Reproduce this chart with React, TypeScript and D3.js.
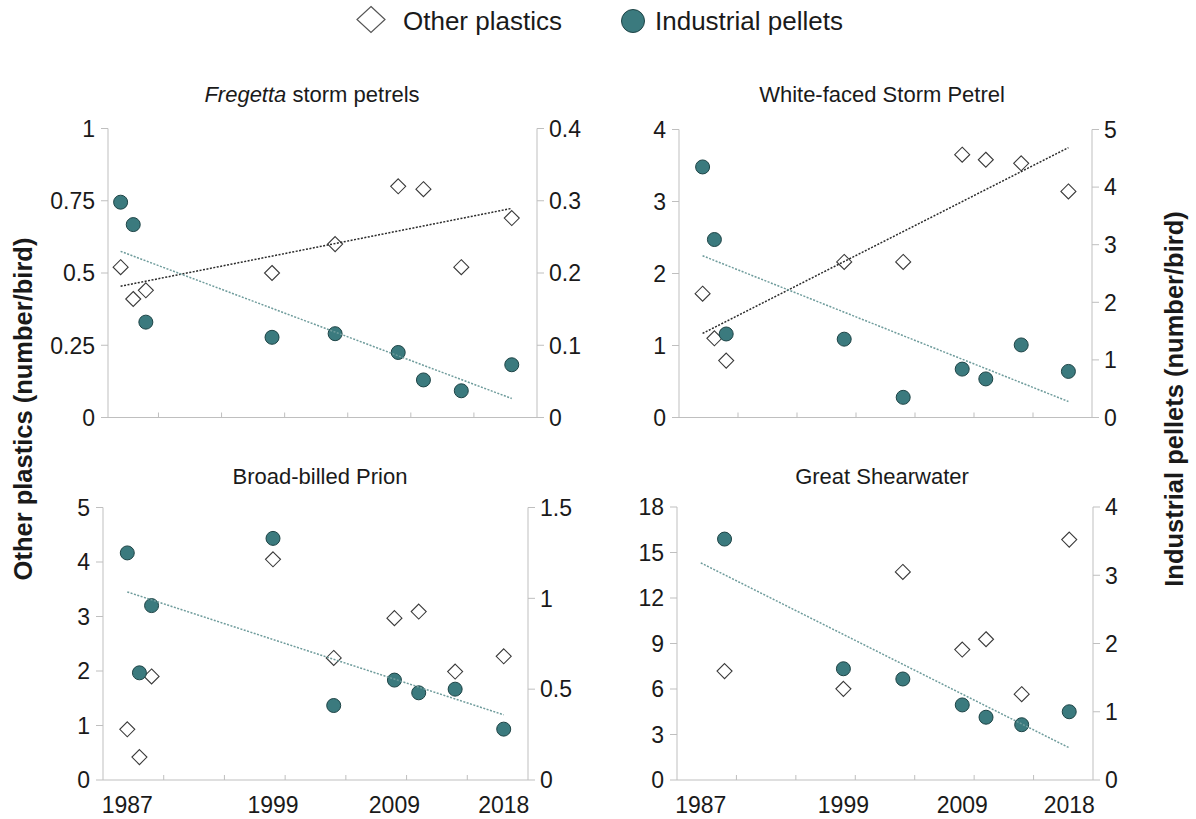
import React from "react";
import * as d3 from "d3";

// ---------- data ----------
const years = [1987, 1988, 1989, 1999, 2004, 2009, 2011, 2014, 2018];
const shearwaterYears = [1989, 1999, 2004, 2009, 2011, 2014, 2018];

const fregettaOther = [0.52, 0.41, 0.44, 0.5, 0.6, 0.8, 0.79, 0.52, 0.69];
const fregettaPellets = [0.298, 0.267, 0.132, 0.111, 0.116, 0.09, 0.052, 0.037, 0.073];

const whiteFacedOther = [1.72, 1.1, 0.79, 2.16, 2.16, 3.65, 3.58, 3.53, 3.14];
const whiteFacedPellets = [4.35, 3.09, 1.45, 1.36, 0.35, 0.84, 0.67, 1.26, 0.8];

const prionOther = [0.93, 0.42, 1.9, 4.05, 2.24, 2.97, 3.09, 1.99, 2.27];
const prionPellets = [1.25, 0.59, 0.96, 1.33, 0.41, 0.55, 0.48, 0.5, 0.28];

const shearwaterOther = [7.18, 6.01, 13.72, 8.6, 9.28, 5.66, 15.85];
const shearwaterPellets = [3.53, 1.63, 1.48, 1.1, 0.92, 0.81, 1.0];

const xTickLabels = [1987, 1999, 2009, 2018];
const xMinorTicks = [1990, 1995, 2000, 2005, 2010, 2015];
const trendRange = [1987, 2018];

const fregettaLeftTicks = [0, 0.25, 0.5, 0.75, 1];
const fregettaRightTicks = [0, 0.1, 0.2, 0.3, 0.4];
const whiteFacedLeftTicks = [0, 1, 2, 3, 4];
const whiteFacedRightTicks = [0, 1, 2, 3, 4, 5];
const prionLeftTicks = [0, 1, 2, 3, 4, 5];
const prionRightTicks = [0, 0.5, 1, 1.5];
const shearwaterLeftTicks = [0, 3, 6, 9, 12, 15, 18];
const shearwaterRightTicks = [0, 1, 2, 3, 4];

const legendLabels = ["Other plastics", "Industrial pellets"];
const yTitleLeft = "Other plastics  (number/bird)";
const yTitleRight = "Industrial pellets  (number/bird)";

// ---------- style ----------
const FONT = "'Liberation Sans', Arial, Helvetica, sans-serif";
const AXIS = "#bfbfbf";
const TEAL = "#3b7a7e";
const TEAL_STROKE = "#1e4446";
const TEAL_TREND = "#6f9c9c";
const DARK_TREND = "#2b2b2b";
const TICK_FS = 23;

type Panel = {
  title: string;
  italicPart?: string;
  titleX: number;
  titleY: number;
  x0: number;
  x1: number;
  xDom: [number, number];
  yTop: number;
  yBot: number;
  leftTicks: number[];
  rightTicks: number[];
  xs: number[];
  other: number[];
  pellets: number[];
  trendOther: boolean;
  trendPellets: boolean;
  showXLabels: boolean;
};

const panels: Panel[] = [
  {
    title: " storm petrels",
    italicPart: "Fregetta",
    titleX: 312,
    titleY: 102,
    x0: 108,
    x1: 537,
    xDom: [1986, 2020],
    yTop: 128.5,
    yBot: 417.5,
    leftTicks: fregettaLeftTicks,
    rightTicks: fregettaRightTicks,
    xs: years,
    other: fregettaOther,
    pellets: fregettaPellets,
    trendOther: true,
    trendPellets: true,
    showXLabels: false,
  },
  {
    title: "White-faced Storm Petrel",
    titleX: 882,
    titleY: 102,
    x0: 679,
    x1: 1092,
    xDom: [1985, 2020],
    yTop: 129.5,
    yBot: 417.5,
    leftTicks: whiteFacedLeftTicks,
    rightTicks: whiteFacedRightTicks,
    xs: years,
    other: whiteFacedOther,
    pellets: whiteFacedPellets,
    trendOther: true,
    trendPellets: true,
    showXLabels: false,
  },
  {
    title: "Broad-billed Prion",
    titleX: 320,
    titleY: 484,
    x0: 103,
    x1: 528,
    xDom: [1985, 2020],
    yTop: 507.5,
    yBot: 780,
    leftTicks: prionLeftTicks,
    rightTicks: prionRightTicks,
    xs: years,
    other: prionOther,
    pellets: prionPellets,
    trendOther: false,
    trendPellets: true,
    showXLabels: true,
  },
  {
    title: "Great Shearwater",
    titleX: 882,
    titleY: 484,
    x0: 677,
    x1: 1093,
    xDom: [1985, 2020],
    yTop: 507,
    yBot: 780,
    leftTicks: shearwaterLeftTicks,
    rightTicks: shearwaterRightTicks,
    xs: shearwaterYears,
    other: shearwaterOther,
    pellets: shearwaterPellets,
    trendOther: false,
    trendPellets: true,
    showXLabels: true,
  },
];

function regression(xs: number[], ys: number[]) {
  const mx = d3.mean(xs) as number;
  const my = d3.mean(ys) as number;
  let num = 0;
  let den = 0;
  xs.forEach((x, i) => {
    num += (x - mx) * (ys[i] - my);
    den += (x - mx) * (x - mx);
  });
  const slope = num / den;
  return (x: number) => my + slope * (x - mx);
}

const fmt = (v: number) => String(+v.toFixed(2));

function diamondPath(cx: number, cy: number, w: number, h: number) {
  return `M${cx},${cy - h}L${cx + w},${cy}L${cx},${cy + h}L${cx - w},${cy}Z`;
}

function PanelView({ p }: { p: Panel }) {
  const x = d3.scaleLinear().domain(p.xDom).range([p.x0, p.x1]);
  const leftMax = p.leftTicks[p.leftTicks.length - 1];
  const rightMax = p.rightTicks[p.rightTicks.length - 1];
  const yL = d3.scaleLinear().domain([0, leftMax]).range([p.yBot, p.yTop]);
  const yR = d3.scaleLinear().domain([0, rightMax]).range([p.yBot, p.yTop]);
  const line = (fn: (v: number) => number, sc: d3.ScaleLinear<number, number>) =>
    d3
      .line<number>()
      .x((d) => x(d))
      .y((d) => sc(fn(d)))(trendRange) as string;

  return (
    <g>
      <text
        x={p.titleX}
        y={p.titleY}
        textAnchor="middle"
        fontSize={22}
        fill="#1a1a1a"
      >
        {p.italicPart ? <tspan fontStyle="italic">{p.italicPart}</tspan> : null}
        {p.title}
      </text>
      {/* axes */}
      <line x1={p.x0} x2={p.x0} y1={p.yTop} y2={p.yBot} stroke={AXIS} />
      <line x1={p.x1} x2={p.x1} y1={p.yTop} y2={p.yBot} stroke={AXIS} />
      <line x1={p.x0} x2={p.x1} y1={p.yBot} y2={p.yBot} stroke={AXIS} />
      {p.leftTicks.map((t) => (
        <g key={"l" + t}>
          <line x1={p.x0 - 7} x2={p.x0} y1={yL(t)} y2={yL(t)} stroke={AXIS} />
          <text
            x={p.x0 - 13}
            y={yL(t)}
            dy="0.36em"
            textAnchor="end"
            fontSize={TICK_FS}
            fill="#1a1a1a"
          >
            {fmt(t)}
          </text>
        </g>
      ))}
      {p.rightTicks.map((t) => (
        <g key={"r" + t}>
          <line x1={p.x1} x2={p.x1 + 7} y1={yR(t)} y2={yR(t)} stroke={AXIS} />
          <text
            x={p.x1 + 12}
            y={yR(t)}
            dy="0.36em"
            textAnchor="start"
            fontSize={TICK_FS}
            fill="#1a1a1a"
          >
            {fmt(t)}
          </text>
        </g>
      ))}
      {xMinorTicks.map((t) => (
        <line
          key={"x" + t}
          x1={x(t)}
          x2={x(t)}
          y1={p.yBot}
          y2={p.yBot - 5}
          stroke={AXIS}
        />
      ))}
      {p.showXLabels &&
        xTickLabels.map((t) => (
          <text
            key={"xl" + t}
            x={x(t)}
            y={p.yBot + 33}
            textAnchor="middle"
            fontSize={TICK_FS}
            fill="#1a1a1a"
          >
            {t}
          </text>
        ))}
      {/* markers */}
      {p.other.map((v, i) => (
        <path
          key={"d" + i}
          d={diamondPath(x(p.xs[i]), yL(v), 7.5, 7.5)}
          fill="#fff"
          stroke="#3a3a3a"
          strokeWidth={1.1}
        />
      ))}
      {p.pellets.map((v, i) => (
        <circle
          key={"c" + i}
          cx={x(p.xs[i])}
          cy={yR(v)}
          r={7}
          fill={TEAL}
          stroke={TEAL_STROKE}
          strokeWidth={1}
        />
      ))}
      {/* trend lines */}
      {p.trendOther && (
        <path
          d={line(regression(p.xs, p.other), yL)}
          fill="none"
          stroke={DARK_TREND}
          strokeWidth={1.5}
          strokeDasharray="2,1.5"
        />
      )}
      {p.trendPellets && (
        <path
          d={line(regression(p.xs, p.pellets), yR)}
          fill="none"
          stroke={TEAL_TREND}
          strokeWidth={1.5}
          strokeDasharray="2,1.5"
        />
      )}
    </g>
  );
}

export default function App() {
  return (
    <svg
      width={1196}
      height={819}
      style={{ position: "absolute", left: 0, top: 0, background: "#fff" }}
      fontFamily={FONT}
    >
      <rect width={1196} height={819} fill="#fff" />
      {/* legend */}
      <path d={diamondPath(371, 19.5, 14, 13)} fill="#fff" stroke="#555" strokeWidth={1.2} />
      <text x={403} y={30} fontSize={26} fill="#1a1a1a">
        {legendLabels[0]}
      </text>
      <circle cx={633} cy={21} r={11.5} fill={TEAL} stroke={TEAL_STROKE} strokeWidth={1} />
      <text x={655} y={30} fontSize={26} fill="#1a1a1a">
        {legendLabels[1]}
      </text>
      {/* axis titles */}
      <text
        transform="translate(32,409) rotate(-90)"
        textAnchor="middle"
        fontSize={25.5}
        fontWeight="bold"
        fill="#1a1a1a"
      >
        {yTitleLeft}
      </text>
      <text
        transform="translate(1183,399) rotate(-90)"
        textAnchor="middle"
        fontSize={25.5}
        fontWeight="bold"
        fill="#1a1a1a"
      >
        {yTitleRight}
      </text>
      {panels.map((p, i) => (
        <PanelView key={i} p={p} />
      ))}
    </svg>
  );
}
